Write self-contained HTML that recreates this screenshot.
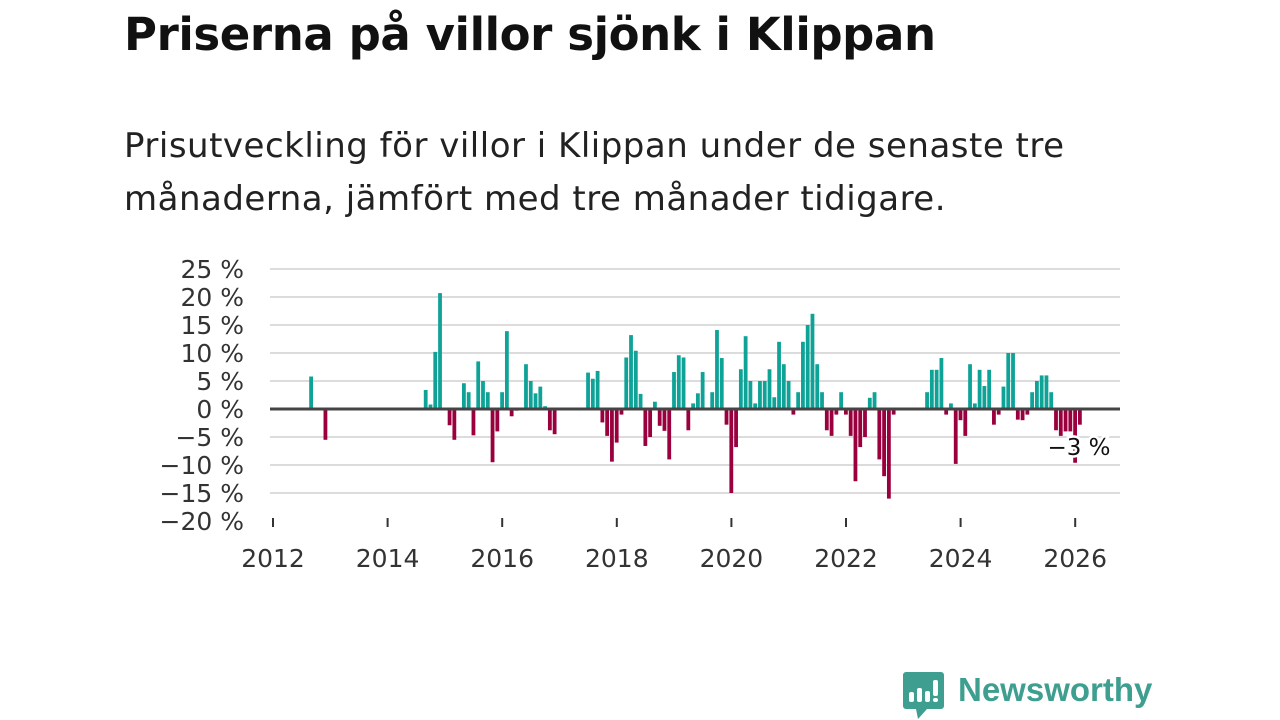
<!DOCTYPE html>
<html><head><meta charset="utf-8">
<style>
body{margin:0;width:1280px;height:720px;background:#fff;overflow:hidden;font-family:"Liberation Sans","DejaVu Sans",sans-serif;}
h1{position:absolute;left:124px;top:8px;margin:0;font-size:45px;font-weight:bold;color:#111;font-family:"DejaVu Sans","Liberation Sans",sans-serif;letter-spacing:-0.4px}
p.sub{position:absolute;left:124px;top:120px;margin:0;font-size:34px;line-height:53px;color:#222;font-family:"DejaVu Sans","Liberation Sans",sans-serif;letter-spacing:0.5px}
svg{position:absolute;left:0;top:0}
</style></head><body>
<h1>Priserna på villor sjönk i Klippan</h1>
<p class="sub">Prisutveckling för villor i Klippan under de senaste tre<br>månaderna, jämfört med tre månader tidigare.</p>
<svg id="chart" width="1280" height="720"></svg>
<div style="position:absolute;left:903px;top:672px;">
<svg width="42" height="48" viewBox="0 0 42 48" style="position:absolute;left:0;top:0"><path d="M3 0H38a3 3 0 0 1 3 3V34a3 3 0 0 1-3 3H24L15 47 13 37H3a3 3 0 0 1-3-3V3a3 3 0 0 1 3-3z" fill="#3e9e90"/><rect x="6" y="20" width="5" height="10" rx="2" fill="#fff"/><rect x="14" y="16" width="5" height="14" rx="2" fill="#fff"/><rect x="22" y="19" width="5" height="11" rx="2" fill="#fff"/><rect x="30" y="8" width="5" height="16" rx="2" fill="#fff"/><rect x="30" y="26" width="5" height="4" rx="2" fill="#fff"/></svg>
<span style="position:absolute;left:55px;top:-1px;font-size:33px;font-weight:bold;color:#3e9e90;white-space:nowrap;font-family:'Liberation Sans',sans-serif">Newsworthy</span>
</div>
<script>
const startYear = 2012;
const yTicks = [25,20,15,10,5,0,-5,-10,-15,-20];
const xTickYears = [2012,2014,2016,2018,2020,2022,2024,2026];
const monthIdx = [8,11,32,33,34,35,37,38,40,41,42,43,44,45,46,47,48,49,50,51,53,54,55,56,57,58,59,66,67,68,69,70,71,72,73,74,75,76,77,78,79,80,81,82,83,84,85,86,87,88,89,90,92,93,94,95,96,97,98,99,100,101,102,103,104,105,106,107,108,109,110,111,112,113,114,115,116,117,118,119,120,121,122,123,124,125,126,127,128,129,130,137,138,139,140,141,142,143,144,145,146,147,148,149,150,151,152,153,154,155,156,157,158,159,160,161,162,163,164,165,166,167,168,169];
const values = [5.8,-5.5,3.4,0.8,10.2,20.7,-2.9,-5.5,4.6,3,-4.7,8.5,5,3,-9.5,-4,3,13.9,-1.3,-0.3,8,5,2.8,4,0.5,-3.8,-4.5,6.5,5.4,6.8,-2.4,-4.8,-9.4,-6,-1,9.2,13.2,10.4,2.7,-6.6,-5,1.3,-3,-3.9,-9,6.6,9.6,9.2,-3.8,1,2.8,6.6,3,14.1,9.1,-2.8,-15,-6.8,7.1,13,5,1,5,5,7.1,2.1,12,8,5,-1,3,12,15,17,8,3,-3.8,-4.8,-1,3,-1,-4.8,-12.9,-6.8,-5,2,3,-9,-12,-16,-1,3,7,7,9.1,-1,1,-9.8,-2,-4.8,8,1,7,4.1,7,-2.8,-1,4,10,10,-1.9,-2,-1,3,5,6,6,3,-3.8,-4.8,-4,-4,-9.6,-2.8];
const lastLabel = "−3 %";
const svg = document.getElementById('chart');
const NS = 'http://www.w3.org/2000/svg';
const X0 = 273, perYear = 57.3, Y0 = 409, perPct = 5.6;
function xScale(m){return X0 + m*perYear/12;}
function yScale(v){return Y0 - v*perPct;}
function mk(tag, attrs){const e=document.createElementNS(NS,tag);for(const k in attrs)e.setAttribute(k,attrs[k]);svg.appendChild(e);return e;}
yTicks.forEach(t=>{
  if(t!==-20 && t!==0){
    const g=mk('line',{x1:270,x2:1120,y1:yScale(t),y2:yScale(t),stroke:'#dcdcdc','stroke-width':2});
    
    
  }
  const tx=mk('text',{x:244,y:yScale(t)+9,'text-anchor':'end','font-size':25,fill:'#333','font-family':'DejaVu Sans, Liberation Sans, sans-serif'});
  tx.textContent=(t<0?'−'+(-t):t)+' %';
  
  
});
xTickYears.forEach(y=>{
  const x=xScale((y-startYear)*12);
  const l=mk('line',{x1:x,x2:x,y1:518,y2:527,stroke:'#333','stroke-width':2});
  
  
  const tx=mk('text',{x:x,y:567,'text-anchor':'middle','font-size':25,fill:'#333','font-family':'DejaVu Sans, Liberation Sans, sans-serif'});
  tx.textContent=y;
  
  
});
monthIdx.forEach((m,i)=>{
  const v=values[i];
  const x=xScale(m)-2;
  const y=v>=0?yScale(v):Y0;
  const r=mk('rect',{x:x,y:y,width:3.8,height:Math.abs(v)*perPct,fill:v>=0?'#0fa398':'#9a003e'});
  
  
});
const z=mk('line',{x1:270,x2:1120,y1:Y0,y2:Y0,stroke:'#444','stroke-width':3});


const lb=mk('text',{x:1079,y:455,'text-anchor':'middle','font-size':23,fill:'#111',stroke:'#fff','stroke-width':5,'paint-order':'stroke','font-family':'DejaVu Sans, Liberation Sans, sans-serif'});
lb.textContent=lastLabel;


</script>
</body></html>
